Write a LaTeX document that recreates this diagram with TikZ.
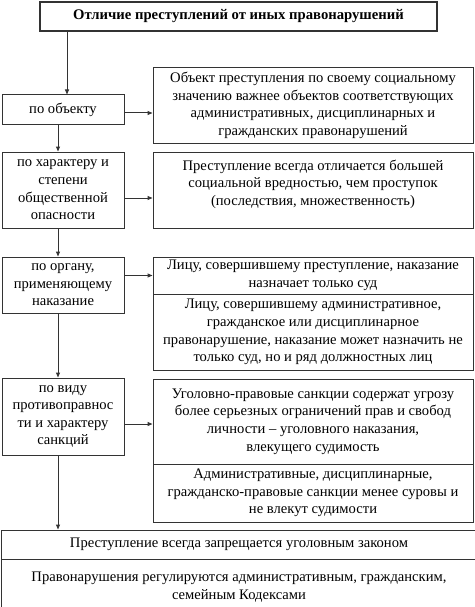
\documentclass[tikz,border=0pt]{standalone}
\usepackage{fontspec}
\setmainfont{Liberation Serif}
\usetikzlibrary{arrows.meta}
\begin{document}
\begin{tikzpicture}[x=1pt,y=-1pt,
  box/.style={draw=black!80, line width=1pt, align=center, inner sep=0pt,
     font=\fontsize{14.6}{17.6}\selectfont, anchor=center},
  arr/.style={draw=black!80, line width=1pt, -{Triangle[length=5pt,width=4pt]}}]
\useasboundingbox (0,0) rectangle (474,607);
\node[box, line width=2pt, minimum width=397pt, minimum height=29pt,
  font=\bfseries\fontsize{14.7}{17}\selectfont] (title) at (238.5,16.5)
  {Отличие преступлений от иных правонарушений};
\node[box, minimum width=122pt, minimum height=29pt] (l1) at (63,109.5) {по объекту};
\node[box, minimum width=320pt, minimum height=75pt] (r1) at (313,105.5)
  {Объект преступления по своему социальному\\значению важнее объектов соответствующих\\административных, дисциплинарных и\\гражданских правонарушений};
\node[box, minimum width=122pt, minimum height=76pt] (l2) at (63,190)
  {по характеру и\\степени\\общественной\\опасности};
\node[box, minimum width=320pt, minimum height=76pt] (r2) at (313,190) {};
\node[box, draw=none, minimum width=320pt] (r2t) at (313,184)
  {Преступление всегда отличается большей\\социальной вредностью, чем проступок\\(последствия, множественность)};
\node[box, minimum width=122pt, minimum height=56pt] (l3) at (63,285)
  {по органу,\\применяющему\\наказание};
\node[box, minimum width=320pt, minimum height=37pt] (r3a) at (313,275.5)
  {Лицу, совершившему преступление, наказание\\назначает только суд};
\node[box, minimum width=320pt, minimum height=76pt] (r3b) at (313,332)
  {Лицу, совершившему административное,\\гражданское или дисциплинарное\\правонарушение, наказание может назначить не\\только суд, но и ряд должностных лиц};
\node[box, minimum width=122pt, minimum height=77pt] (l4) at (63,416.5)
  {по виду\\противоправнос\\ти и характеру\\санкций};
\node[box, minimum width=320pt, minimum height=85pt] (r4a) at (313,421.5)
  {Уголовно-правовые санкции содержат угрозу\\более серьезных ограничений прав и свобод\\личности – уголовного наказания,\\влекущего судимость};
\node[box, minimum width=320pt, minimum height=58pt] (r4b) at (313,493)
  {Административные, дисциплинарные,\\гражданско-правовые санкции менее суровы и\\не влекут судимости};
\node[box, minimum width=475pt, minimum height=29pt] (b1) at (239,544.5)
  {Преступление всегда запрещается уголовным законом};
\node[box, minimum width=475pt, minimum height=50pt] (b2) at (239,584) {};
\node[box, draw=none] (b2t) at (239,587)
  {Правонарушения регулируются административным, гражданским,\\семейным Кодексами};
% connectors
\draw[arr] ([xshift=-171.5pt]title.south) -- ([xshift=4pt]l1.north);
\draw[arr] ([xshift=-5pt]l1.south) -- ([xshift=-5pt]l2.north);
\draw[arr] ([xshift=-5pt]l2.south) -- ([xshift=-5pt]l3.north);
\draw[arr] ([xshift=-5pt]l3.south) -- ([xshift=-5pt]l4.north);
\draw[arr] ([xshift=-5pt]l4.south) -- ([xshift=-5pt]l4.south |- b1.north);
\draw[arr] ([yshift=-3.5pt]l1.east) -- ([yshift=-3.5pt]l1.east -| r1.west);
\draw[arr] ([yshift=-8pt]l2.east) -- ([yshift=-8pt]l2.east -| r2.west);
\draw[arr] (l3.east |- r3a.west) -- (r3a.west);
\draw[arr] ([yshift=-7.5pt]l4.east) -- ([yshift=-7.5pt]l4.east -| r4a.west);
\end{tikzpicture}
\end{document}
